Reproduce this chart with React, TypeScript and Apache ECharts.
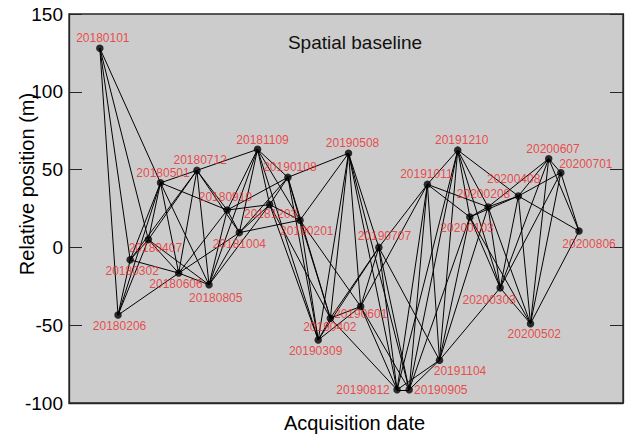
import { useEffect, useRef } from "react";
import * as echarts from "echarts";

// Acquisition dates (yyyymmdd)
const dates: string[] = [
  "20180101", "20180206", "20180302", "20180407", "20180501", "20180606",
  "20180712", "20180805", "20180910", "20181004", "20181109", "20181203",
  "20190108", "20190201", "20190309", "20190402", "20190508", "20190601",
  "20190707", "20190812", "20190905", "20191011", "20191104", "20191210",
  "20200103", "20200208", "20200303", "20200408", "20200502", "20200607",
  "20200701", "20200806",
];

// Relative position (m) of each acquisition
const positions: number[] = [
  128, -43.5, -8, 5, 41.5, -16.5,
  49.5, -24, 24, 9.5, 63, 27.5,
  45, 17.5, -59.5, -45.5, 60.5, -38,
  0, -91.5, -91.5, 40.5, -72.5, 62.5,
  19.5, 26, -26, 33, -49, 57,
  48, 10.5,
];

// Interferometric pairs: source -> targets
const links: Record<string, string[]> = {
  "20180101": ["20180206", "20180302", "20180407", "20180501"],
  "20180206": ["20180302", "20180407", "20180501", "20180606"],
  "20180302": ["20180407", "20180501", "20180606", "20180712"],
  "20180407": ["20180501", "20180606", "20180712", "20180805"],
  "20180501": ["20180606", "20180712", "20180805", "20180910"],
  "20180606": ["20180712", "20180805", "20180910", "20181004"],
  "20180712": ["20180805", "20180910", "20181004", "20181109"],
  "20180805": ["20180910", "20181004", "20181109", "20181203"],
  "20180910": ["20181004", "20181109", "20181203", "20190108"],
  "20181004": ["20181109", "20181203", "20190108", "20190201"],
  "20181109": ["20181203", "20190108", "20190201", "20190309"],
  "20181203": ["20190108", "20190201", "20190309", "20190402"],
  "20190108": ["20190201", "20190309", "20190402", "20190508"],
  "20190201": ["20190309", "20190402", "20190508", "20190601"],
  "20190309": ["20190402", "20190508", "20190601", "20190707"],
  "20190402": ["20190508", "20190601", "20190707", "20190812"],
  "20190508": ["20190601", "20190707", "20190812", "20190905"],
  "20190601": ["20190707", "20190812", "20190905", "20191011"],
  "20190707": ["20190812", "20190905", "20191011", "20191104"],
  "20190812": ["20190905", "20191011", "20191104", "20191210"],
  "20190905": ["20191011", "20191104", "20191210", "20200103"],
  "20191011": ["20191104", "20191210", "20200103", "20200208"],
  "20191104": ["20191210", "20200103", "20200208", "20200303"],
  "20191210": ["20200103", "20200208", "20200303", "20200408"],
  "20200103": ["20200208", "20200303", "20200408", "20200502"],
  "20200208": ["20200303", "20200408", "20200502", "20200607"],
  "20200303": ["20200408", "20200502", "20200607", "20200701"],
  "20200408": ["20200502", "20200607", "20200701", "20200806"],
  "20200502": ["20200607", "20200701", "20200806"],
  "20200607": ["20200701", "20200806"],
  "20200701": ["20200806"],
};

const xRange = ["20171101", "20201101"];
const yMin = -100;
const yMax = 150;
const yInterval = 50;

const titleText = "Spatial baseline";
const xName = "Acquisition date";
const yName = "Relative position (m)";

// label placement (style only): offset of the label centre from the point
const labelOffsets: Record<string, [number, number]> = {
  "20180101": [3, -10], "20180206": [1.5, 11], "20180302": [2, 11.5],
  "20180407": [7, 8], "20180501": [2.5, -10], "20180606": [-2.7, 10.7],
  "20180712": [3.3, -10], "20180805": [6.7, 13], "20180910": [-1.8, -13.4],
  "20181004": [0, 11.7], "20181109": [5, -9], "20181203": [1, 9.4],
  "20190108": [2, -10.3], "20190201": [6.8, 10.6], "20190309": [-2.6, 10.6],
  "20190402": [-0.5, 9], "20190508": [4, -10], "20190601": [0, 7.7],
  "20190707": [5.5, -11.7], "20190812": [-34, 0], "20190905": [31.6, 0],
  "20191011": [-1, -10], "20191104": [20.5, 10.7], "20191210": [4, -10],
  "20200103": [-2.8, 11], "20200208": [-4.5, -12.7], "20200303": [-11, 12.6],
  "20200408": [-4.7, -16.7], "20200502": [3.8, 10], "20200607": [4.3, -9.3],
  "20200701": [25, -9], "20200806": [10, 12.7],
};

const FONT = "'Liberation Sans', Arial, Helvetica, sans-serif";

function toTime(s: string): number {
  return Date.UTC(+s.slice(0, 4), +s.slice(4, 6) - 1, +s.slice(6, 8));
}

export default function App() {
  const ref = useRef<HTMLDivElement>(null);

  useEffect(() => {
    document.body.style.margin = "0";
    document.body.style.overflow = "hidden";
    if (!ref.current) return;
    const chart = echarts.init(ref.current, undefined, { renderer: "svg" });

    const posOf: Record<string, [number, number]> = {};
    dates.forEach((d, i) => {
      posOf[d] = [toTime(d), positions[i]];
    });

    const lineData: { coords: [number, number][] }[] = [];
    Object.keys(links).forEach((src) => {
      links[src].forEach((tgt) => {
        lineData.push({ coords: [posOf[src], posOf[tgt]] });
      });
    });

    const pointData = dates.map((d) => ({
      name: d,
      value: posOf[d],
    }));

    const yAxisCommon = {
      type: "value" as const,
      min: yMin,
      max: yMax,
      interval: yInterval,
      splitLine: { show: false },
      axisLine: { show: true, lineStyle: { color: "#262626", width: 1.3 } },
      axisTick: {
        show: true,
        inside: true,
        length: 13,
        lineStyle: { color: "#262626", width: 1 },
      },
    };

    chart.setOption({
      animation: false,
      backgroundColor: "#ffffff",
      grid: {
        left: 69,
        right: 6,
        top: 14,
        bottom: 34,
        show: true,
        backgroundColor: "#cccccc",
        borderColor: "#262626",
        borderWidth: 1.3,
      },
      xAxis: {
        type: "time",
        min: toTime(xRange[0]),
        max: toTime(xRange[1]),
        axisLine: {
          show: true,
          onZero: false,
          lineStyle: { color: "#262626", width: 1.3 },
        },
        axisTick: { show: false },
        axisLabel: { show: false },
        splitLine: { show: false },
      },
      yAxis: [
        {
          ...yAxisCommon,
          position: "left",
          axisLabel: {
            show: true,
            color: "#000",
            fontSize: 19,
            fontFamily: FONT,
            margin: 6,
          },
        },
        {
          ...yAxisCommon,
          position: "right",
          axisLabel: { show: false },
        },
      ],
      graphic: [
        {
          type: "text",
          x: 355,
          y: 42,
          style: {
            text: titleText,
            fill: "#111",
            font: `19px ${FONT}`,
            textAlign: "center",
            textVerticalAlign: "middle",
          },
          z: 100,
        },
        {
          type: "text",
          x: 354.5,
          y: 423,
          style: {
            text: xName,
            fill: "#000",
            font: `20px ${FONT}`,
            textAlign: "center",
            textVerticalAlign: "middle",
          },
        },
        {
          type: "text",
          x: 27,
          y: 184,
          rotation: Math.PI / 2,
          style: {
            text: yName,
            fill: "#000",
            font: `20px ${FONT}`,
            textAlign: "center",
            textVerticalAlign: "middle",
          },
        },
      ],
      series: [
        {
          type: "lines",
          coordinateSystem: "cartesian2d",
          silent: true,
          z: 2,
          lineStyle: { color: "#000", width: 1, opacity: 1, curveness: 0 },
          data: lineData,
        },
        {
          type: "scatter",
          z: 3,
          symbol: "circle",
          symbolSize: 7.5,
          itemStyle: { color: "#000" },
          label: {
            show: true,
            position: "inside",
            formatter: "{b}",
            color: "#f02828",
            fontSize: 12,
            fontFamily: FONT,
            align: "center",
            verticalAlign: "middle",
          },
          labelLayout: (params: any) => {
            const off = labelOffsets[dates[params.dataIndex]] || [0, -10];
            return { dx: off[0], dy: off[1], hideOverlap: false };
          },
          data: pointData,
        },
      ],
    });

    return () => {
      chart.dispose();
    };
  }, []);

  return <div ref={ref} style={{ width: 629, height: 437 }} />;
}
